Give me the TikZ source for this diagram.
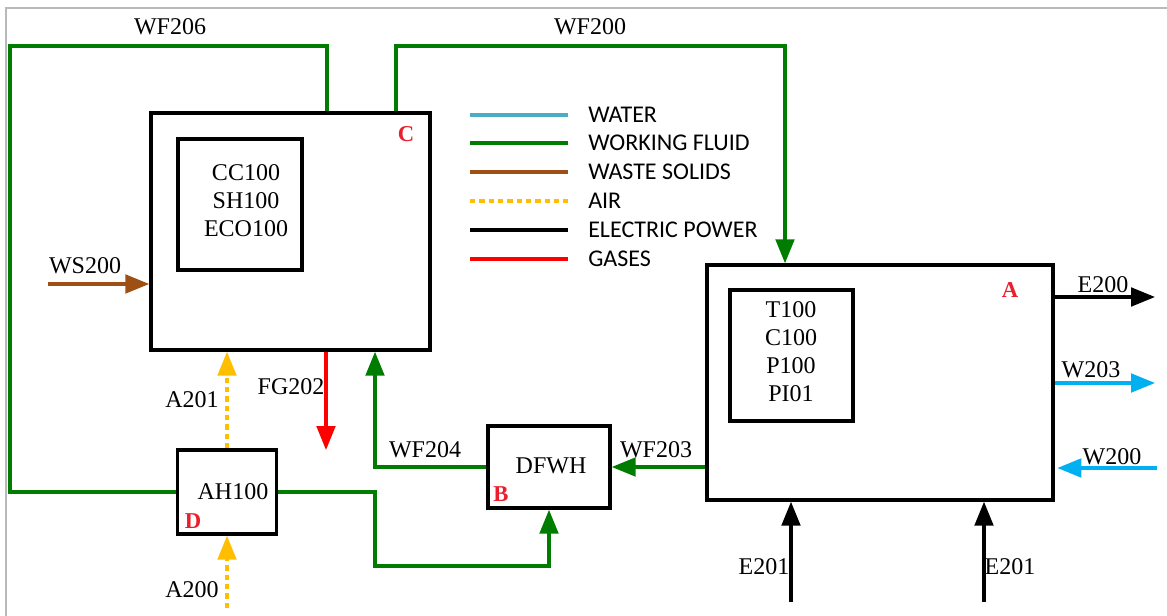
\documentclass[tikz,border=0pt]{standalone}
\usepackage{fontspec}
\setmainfont{Liberation Serif}
\newfontfamily\legfont{Carlito}
\usetikzlibrary{arrows.meta}

\definecolor{wfgreen}{RGB}{0,125,0}
\definecolor{wsbrown}{RGB}{158,80,20}
\definecolor{airyellow}{RGB}{255,190,0}
\definecolor{wblue}{RGB}{0,176,240}
\definecolor{wlegend}{RGB}{75,172,198}
\definecolor{lblred}{RGB}{235,30,45}

\begin{document}
\begin{tikzpicture}[x=0.75pt,y=-0.75pt,
    >={Triangle[length=18pt,width=14pt]},
    flow/.style={line width=2.3pt},
    wf/.style={flow,wfgreen},
    ws/.style={flow,wsbrown},
    air/.style={flow,airyellow,dash pattern=on 4pt off 3pt},
    elec/.style={flow,black},
    gas/.style={flow,red},
    water/.style={flow,wblue},
    legwater/.style={flow,wlegend},
    unit/.style={draw,line width=2.6pt,inner sep=0pt},
    lbl/.style={font=\fontsize{18}{21}\selectfont,inner sep=1pt},
    tag/.style={font=\fontsize{17}{18}\selectfont\bfseries,text=lblred,inner sep=0pt},
    legtext/.style={font=\legfont\fontsize{18}{21}\selectfont,anchor=west,inner sep=0pt}]

\useasboundingbox (0,0) rectangle (1167,616);

% Frame
\draw[gray!55,line width=0.9pt] (6,616) -- (6,8) -- (1167,8);

% Units
\node[unit,minimum width=209.25pt,minimum height=177.75pt] (C) at (290.5,231.5) {};
\node[unit,minimum width=93pt,minimum height=98.25pt] (Cin) at (240,204.5) {};
\node[lbl,align=center] (Clist) at (246,201) {CC100\\SH100\\ECO100};
\node[unit,minimum width=259.5pt,minimum height=176.25pt] (A) at (880,382.5) {};
\node[unit,minimum width=92.25pt,minimum height=98.25pt] (Ain) at (791.5,355.5) {};
\node[lbl,align=center] (Alist) at (791,352) {T100\\C100\\P100\\PI01};
\node[unit,minimum width=91.5pt,minimum height=61.5pt] (DF) at (549,467) {};
\node[unit,minimum width=74.25pt,minimum height=63pt] (AH) at (227,492) {};

\node[lbl] (DFname) at (551,466) {DFWH};
\node[lbl] (AHname) at (233,492) {AH100};

% Unit tags
\node[tag] (tagC) at (406,134) {C};
\node[tag] (tagA) at (1010,290) {A};
\node[tag] (tagB) at (501,494) {B};
\node[tag] (tagD) at (193,521) {D};

% Free ends and bends
\coordinate (b206) at (327,46);
\coordinate (b200) at (396,46);
\coordinate (e200) at (785,46);
\coordinate (k1) at (375,566);
\coordinate (wsin) at (48,284);
\coordinate (fgout) at (326,450);
\coordinate (ain) at (227,608);
\coordinate (eout) at (1155,297);
\coordinate (wout) at (1155,383);
\coordinate (win) at (1157,468);
\coordinate (ein1) at (791,602);
\coordinate (ein2) at (984,602);

% Working fluid
\draw[wf] (C.north -| b206) -- (b206) -- (10,46) |- (AH.west);
\draw[wf,->] (C.north -| b200) -- (b200) -- (e200) -- (A.north -| e200);
\draw[wf,->] (A.west |- DF.east) -- (DF.east);
\draw[wf,->] (DF.west) -| (C.south -| k1);
\draw[wf,->] (AH.east) -| (k1) -| (DF.south);

% Solids, gases, air
\draw[ws,->] (wsin) -- (wsin -| C.west);
\draw[gas,->] (C.south -| fgout) -- (fgout);
\draw[air,->] (AH.north) -- (AH.north |- C.south);
\draw[air,->] (ain) -- (AH.south);

% Power and water
\draw[elec,->] (A.east |- eout) -- (eout);
\draw[water,->] (A.east |- wout) -- (wout);
\draw[water,->] (win) -- ([xshift=2pt]A.east |- win);
\draw[elec,->] (ein1) -- (A.south -| ein1);
\draw[elec,->] (ein2) -- (A.south -| ein2);

% Stream labels
\node[lbl] (lWF206) at (170,27) {WF206};
\node[lbl] (lWF200) at (590,27) {WF200};
\node[lbl] (lWS200) at (85,266) {WS200};
\node[lbl] (lFG202) at (291,387) {FG202};
\node[lbl] (lA201) at (192,400) {A201};
\node[lbl] (lA200) at (192,590) {A200};
\node[lbl] (lWF204) at (425,450) {WF204};
\node[lbl] (lWF203) at (656,450) {WF203};
\node[lbl] (lE200) at (1103,285) {E200};
\node[lbl] (lW203) at (1091,370) {W203};
\node[lbl] (lW200) at (1112,457) {W200};
\node[lbl] (lE201a) at (764,567) {E201};
\node[lbl] (lE201b) at (1010,567) {E201};

% Legend
\foreach \i/\y/\s/\t in {1/115/legwater/WATER,
                         2/143/wf/WORKING FLUID,
                         3/172/ws/WASTE SOLIDS,
                         4/201/air/AIR,
                         5/230/elec/ELECTRIC POWER,
                         6/259/gas/GASES}{
    \draw[\s,line width=2.4pt] (470,\y) -- (568,\y);
    \node[legtext] (leg\i) at (588,\y) {\t};
}

\end{tikzpicture}
\end{document}
